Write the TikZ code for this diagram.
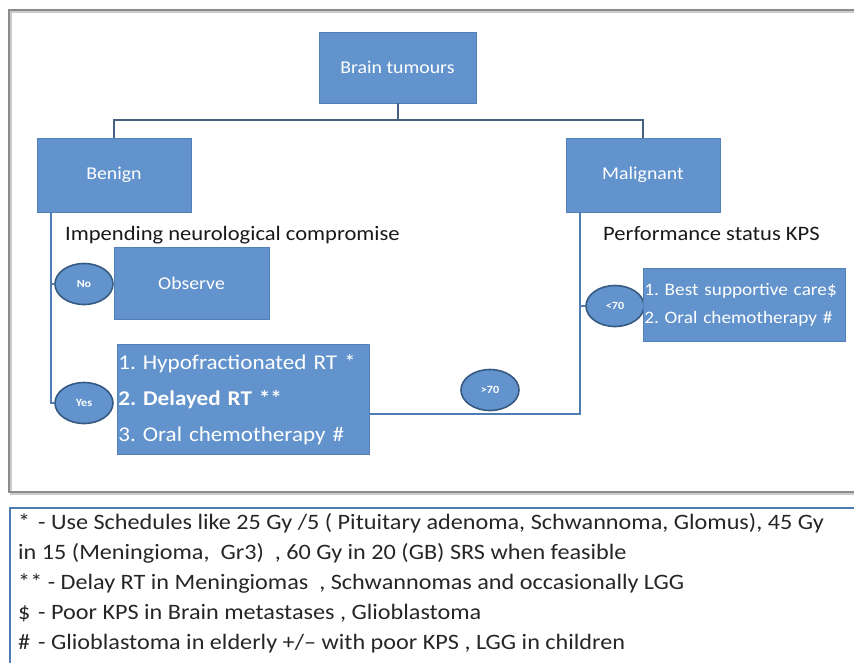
\documentclass[tikz,border=0pt]{standalone}
\usepackage{fontspec}
\setmainfont{Carlito}[FakeStretch=1.1]
\usetikzlibrary{shapes.geometric}
\definecolor{boxblue}{RGB}{98,147,204}
\definecolor{boxedge}{RGB}{84,128,184}
\definecolor{ovaledge}{RGB}{55,90,130}
\definecolor{linkblue}{RGB}{79,124,180}
\definecolor{stemblue}{RGB}{70,96,128}
\definecolor{framegray}{RGB}{140,140,140}
\frenchspacing

\begin{document}
\begin{tikzpicture}[x=1pt,y=-1pt,
  box node/.style={rectangle,fill=boxblue,draw=boxedge,line width=0.6pt,text=white,
    font=\fontsize{18}{21}\selectfont},
  oval node/.style={ellipse,fill=boxblue,draw=ovaledge,line width=1.6pt,text=white,
    minimum width=58pt,minimum height=41pt,inner sep=0pt,font=\fontsize{11}{13}\selectfont\bfseries},
  head node/.style={anchor=base west,text=black!90,inner sep=0pt,font=\fontsize{20.5}{24}\selectfont},
  list node/.style={box node,anchor=north west,align=left,inner xsep=1pt},
  note node/.style={anchor=north west,align=left,inner sep=0pt,text=black!85,
    font=\fontsize{22}{30}\selectfont},
  link/.style={draw=linkblue,line width=2pt},
  stem/.style={draw=stemblue,line width=2pt}]
  \clip (0,0) rectangle (854,662);
  % frame round the chart
  \draw[framegray!45,line width=2pt] (11,12) rectangle (880,494);
  \draw[framegray,line width=1.5pt] (9,10) rectangle (880,492);

  \node[box node,minimum width=157pt,minimum height=71pt] (tumours) at (397.5,67.5) {Brain tumours};
  \node[box node,minimum width=154pt,minimum height=74pt] (benign) at (114,175) {Benign};
  \node[box node,minimum width=154pt,minimum height=74pt] (malignant) at (643,175) {Malignant};

  \node[head node] (impending) at (65,240) {Impending neurological compromise};
  \node[head node] (kps) at (603,240) {Performance status KPS};

  \node[oval node] (no) at (84,284) {No};
  \node[box node,minimum width=155pt,minimum height=72pt] (observe) at (191.5,283) {Observe};
  \node[oval node] (yes) at (84,403) {Yes};
  \node[list node,text width=250pt,minimum height=110pt,font=\fontsize{21}{36}\selectfont]
    (yescare) at (117,344) {1. Hypofractionated RT *\\\textbf{2. Delayed RT **}\\3. Oral chemotherapy \#};

  \node[oval node] (high) at (490,390) {>70};
  \node[oval node] (low) at (615,306) {<70};
  \node[list node,text width=200pt,minimum height=73pt,font=\fontsize{17.5}{28}\selectfont]
    (lowcare) at (643,268) {1. Best supportive care\$\\2. Oral chemotherapy \#};

  % tree
  \draw[stem] (tumours.south) -- ++(0,17) coordinate (split);
  \draw[stem] (benign.north) |- (split) -| (malignant.north);
  \draw[link] ([xshift=14pt]benign.south west) |- (no.west);
  \draw[link] ([xshift=14pt]benign.south west) |- (yes.west);
  \draw[link] ([xshift=14pt]malignant.south west) |- (low.west);
  \draw[link] ([xshift=14pt]malignant.south west) |- ([yshift=-15pt]yescare.east);

  % footnotes
  \draw[link] (10,508) rectangle (880,700);
  \node[note node] (notes) at (18,513) {%
    \makebox[20pt][l]{*}- Use Schedules like 25 Gy /5 ( Pituitary adenoma, Schwannoma, Glomus), 45 Gy\\
    in 15 (Meningioma,\ \ Gr3)\ \ , 60 Gy in 20 (GB) SRS when feasible\\
    ** - Delay RT in Meningiomas\ \ , Schwannomas and occasionally LGG\\
    \makebox[20pt][l]{\$}- Poor KPS in Brain metastases , Glioblastoma\\
    \makebox[20pt][l]{\#}- Glioblastoma in elderly +/-- with poor KPS , LGG in children};
\end{tikzpicture}
\end{document}
